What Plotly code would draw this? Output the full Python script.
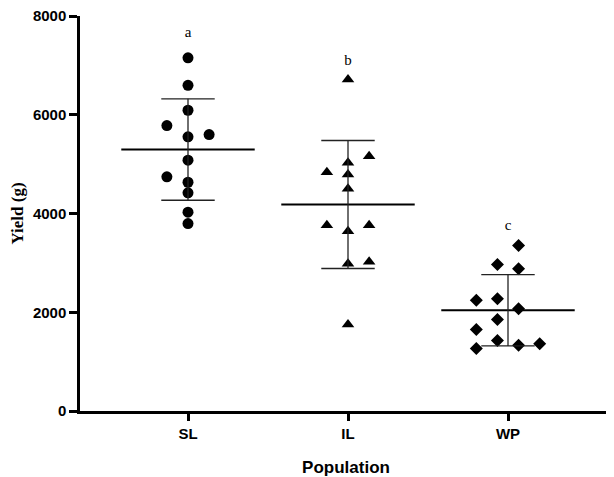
import plotly.graph_objects as go

# ---- data ----
categories = ["SL", "IL", "WP"]
sl_values = [7152, 6597, 6091, 5781, 5553, 5599, 5079, 4743, 4633, 4419, 4026, 3797]
il_values = [6713, 5160, 5026, 4836, 4789, 4500, 3762, 3762, 3641, 2981, 3021, 1752]
wp_values = [3351, 2967, 2880, 2244, 2272, 2070, 1853, 1650, 1428, 1332, 1361, 1266]
means = [5295, 4182, 2041]
sds = [1027, 1296, 723]
letters = ["a", "b", "c"]
letter_y = [7659, 7083, 3742]
y_ticks = [0, 2000, 4000, 6000, 8000]

# ---- layout helpers (scatter column per point, in half-spacing units) ----
sl_cols = [0, 0, 0, -2, 0, 2, 0, -2, 0, 0, 0, 0]
il_cols = [0, 2, 0, -2, 0, 0, -2, 2, 0, 0, 2, 0]
wp_cols = [1, -1, 1, -3, -1, 1, -1, -3, -1, 1, 3, -3]
half_step = 0.066
mean_half = 0.417
cap_half = 0.167

groups = [sl_values, il_values, wp_values]
cols = [sl_cols, il_cols, wp_cols]
symbols = ["circle", "triangle-up", "diamond"]
sizes = [11, 11, 10]

fig = go.Figure()

for i, (vals, cc, sym, sz) in enumerate(zip(groups, cols, symbols, sizes)):
    fig.add_trace(go.Scatter(
        x=[i + c * half_step for c in cc], y=vals, mode="markers",
        marker=dict(symbol=sym, size=sz, color="black", line=dict(width=0)),
        showlegend=False, hoverinfo="y"))

# mean lines
mx, my = [], []
for i, m in enumerate(means):
    mx += [i - mean_half, i + mean_half, None]
    my += [m, m, None]
fig.add_trace(go.Scatter(x=mx, y=my, mode="lines",
                         line=dict(color="black", width=2), showlegend=False,
                         hoverinfo="skip"))

# SD bars
sx, sy = [], []
for i, (m, s) in enumerate(zip(means, sds)):
    sx += [i, i, None, i - cap_half, i + cap_half, None, i - cap_half, i + cap_half, None]
    sy += [m - s, m + s, None, m + s, m + s, None, m - s, m - s, None]
fig.add_trace(go.Scatter(x=sx, y=sy, mode="lines",
                         line=dict(color="#222222", width=1.3), showlegend=False,
                         hoverinfo="skip"))

# letters
fig.add_trace(go.Scatter(
    x=list(range(len(categories))), y=letter_y, mode="text", text=letters,
    textfont=dict(family="Liberation Serif", size=15, color="black"),
    showlegend=False, hoverinfo="skip"))

fig.update_layout(
    width=614, height=477,
    margin=dict(l=72, r=10, t=8, b=74),
    paper_bgcolor="white", plot_bgcolor="white",
    xaxis=dict(
        range=[-0.675, 2.65], tickmode="array", automargin=False,
        tickvals=list(range(len(categories))), ticktext=[f"<b>{c}</b>" for c in categories],
        showline=True, linecolor="black", linewidth=2.5,
        ticks="outside", ticklen=7, tickwidth=2.5, tickcolor="black",
        showgrid=False, zeroline=False,
        tickfont=dict(family="Liberation Sans", size=15, color="black"),
        title=dict(text="<b>Population</b>", standoff=21,
                   font=dict(family="Liberation Sans", size=17, color="black")),
    ),
    yaxis=dict(
        range=[0, 8000], tickmode="array", tickvals=y_ticks, automargin=False,
        ticktext=[f"<b>{t}</b>" for t in y_ticks],
        showline=True, linecolor="black", linewidth=2.5,
        ticks="outside", ticklen=8, tickwidth=2.5, tickcolor="black",
        showgrid=False, zeroline=False, ticklabeloverflow="allow",
        tickfont=dict(family="Liberation Sans", size=15, color="black"),
        title=dict(text="<b>Yield (g)</b>", standoff=6,
                   font=dict(family="Liberation Serif", size=17, color="black")),
    ),
)

fig.write_html("out.html")
